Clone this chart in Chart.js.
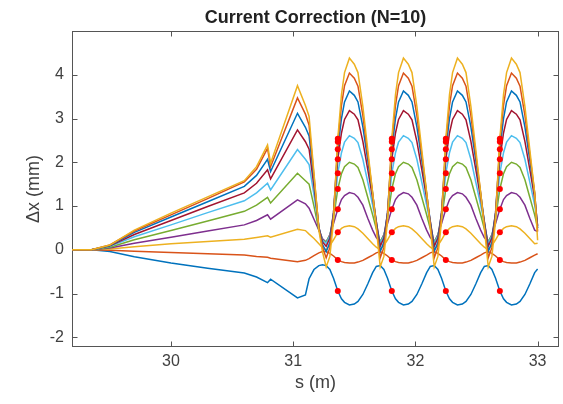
<!DOCTYPE html>
<html>
<head>
<meta charset="utf-8">
<script src="https://cdn.jsdelivr.net/npm/chart.js@4.4.1/dist/chart.umd.min.js"></script>
<style>
  body { margin: 0; background: #fff; }
  #wrap { width: 563px; height: 404px; }
</style>
</head>
<body>
<div id="wrap"><canvas id="orbit-chart" width="563" height="404"></canvas></div>
<script>
// s positions (m) shared by all the curves
var sPos = [
    29.19, 29.35, 29.5, 29.7, 30.0, 30.3, 30.6, 30.7, 30.79, 30.815, 31.035, 31.1, 31.13, 31.17, 31.21, 31.24,
    31.27, 31.30, 31.33, 31.365, 31.395, 31.42, 31.46, 31.50, 31.53, 31.57, 31.61, 31.65, 31.68,
    31.712, 31.742, 31.772, 31.807, 31.837, 31.862, 31.902, 31.942, 31.972, 32.012, 32.052, 32.092, 32.122,
    32.154, 32.184, 32.214, 32.249, 32.279, 32.304, 32.344, 32.384, 32.414, 32.454, 32.494, 32.534, 32.564,
    32.596, 32.626, 32.656, 32.691, 32.721, 32.746, 32.786, 32.826, 32.856, 32.896, 32.936, 32.976, 33.0
];

// delta x (mm), one array per corrector current step
var dx1 = [
    0, 0, -0.04, -0.16, -0.30, -0.42, -0.53, -0.62, -0.75, -0.67, -1.10, -1.03, -0.66, -0.45, -0.36, -0.34,
    -0.36, -0.45, -0.65, -0.94, -1.12, -1.20, -1.26, -1.24, -1.18, -1.02, -0.78, -0.52, -0.38,
    -0.36, -0.45, -0.65, -0.94, -1.12, -1.20, -1.26, -1.24, -1.18, -1.02, -0.78, -0.52, -0.38,
    -0.36, -0.45, -0.65, -0.94, -1.12, -1.20, -1.26, -1.24, -1.18, -1.02, -0.78, -0.52, -0.38,
    -0.36, -0.45, -0.65, -0.94, -1.12, -1.20, -1.26, -1.24, -1.18, -1.02, -0.78, -0.52, -0.44
];
var dx2 = [
    0, 0, -0.01, -0.03, -0.06, -0.09, -0.12, -0.15, -0.17, -0.19, -0.27, -0.24, -0.20, -0.13, -0.07, -0.04,
    -0.04, -0.08, -0.14, -0.23, -0.27, -0.29, -0.30, -0.30, -0.28, -0.24, -0.18, -0.12, -0.07,
    -0.04, -0.08, -0.14, -0.23, -0.27, -0.29, -0.30, -0.30, -0.28, -0.24, -0.18, -0.12, -0.07,
    -0.04, -0.08, -0.14, -0.23, -0.27, -0.29, -0.30, -0.30, -0.28, -0.24, -0.18, -0.12, -0.07,
    -0.04, -0.08, -0.14, -0.23, -0.27, -0.29, -0.30, -0.30, -0.28, -0.24, -0.18, -0.12, -0.09
];
var dx3 = [
    0, 0, 0.02, 0.07, 0.14, 0.19, 0.24, 0.28, 0.32, 0.29, 0.47, 0.44, 0.36, 0.26, 0.14, 0.05,
    0.00, 0.10, 0.23, 0.40, 0.49, 0.53, 0.55, 0.53, 0.48, 0.38, 0.26, 0.14, 0.06,
    0.00, 0.10, 0.23, 0.40, 0.49, 0.53, 0.55, 0.53, 0.48, 0.38, 0.26, 0.14, 0.06,
    0.00, 0.10, 0.23, 0.40, 0.49, 0.53, 0.55, 0.53, 0.48, 0.38, 0.26, 0.14, 0.06,
    0.00, 0.10, 0.23, 0.40, 0.49, 0.53, 0.55, 0.53, 0.48, 0.38, 0.26, 0.14, 0.15
];
var dx4 = [
    0, 0, 0.04, 0.15, 0.29, 0.43, 0.57, 0.67, 0.80, 0.70, 1.14, 1.05, 0.95, 0.70, 0.45, 0.25,
    0.18, 0.35, 0.60, 0.93, 1.15, 1.24, 1.31, 1.28, 1.20, 1.02, 0.72, 0.45, 0.28,
    0.18, 0.35, 0.60, 0.93, 1.15, 1.24, 1.31, 1.28, 1.20, 1.02, 0.72, 0.45, 0.28,
    0.18, 0.35, 0.60, 0.93, 1.15, 1.24, 1.31, 1.28, 1.20, 1.02, 0.72, 0.45, 0.28,
    0.18, 0.35, 0.60, 0.93, 1.15, 1.24, 1.31, 1.28, 1.20, 1.02, 0.72, 0.45, 0.42
];
var dx5 = [
    0, 0, 0.06, 0.23, 0.44, 0.66, 0.88, 1.02, 1.20, 1.07, 1.75, 1.58, 1.50, 1.00, 0.45, 0.22,
    0.18, 0.33, 0.72, 1.39, 1.74, 1.90, 2.00, 1.96, 1.88, 1.60, 1.20, 0.80, 0.48,
    0.18, 0.33, 0.72, 1.39, 1.74, 1.90, 2.00, 1.96, 1.88, 1.60, 1.20, 0.80, 0.48,
    0.18, 0.33, 0.72, 1.39, 1.74, 1.90, 2.00, 1.96, 1.88, 1.60, 1.20, 0.80, 0.48,
    0.18, 0.33, 0.72, 1.39, 1.74, 1.90, 2.00, 1.96, 1.88, 1.60, 1.20, 0.80, 0.50
];
var dx6 = [
    0, 0, 0.08, 0.30, 0.57, 0.85, 1.12, 1.30, 1.52, 1.37, 2.29, 2.07, 1.95, 1.25, 0.50, 0.22,
    0.15, 0.32, 0.80, 1.75, 2.22, 2.46, 2.61, 2.55, 2.45, 2.07, 1.55, 1.02, 0.60,
    0.15, 0.32, 0.80, 1.75, 2.22, 2.46, 2.61, 2.55, 2.45, 2.07, 1.55, 1.02, 0.60,
    0.15, 0.32, 0.80, 1.75, 2.22, 2.46, 2.61, 2.55, 2.45, 2.07, 1.55, 1.02, 0.60,
    0.15, 0.32, 0.80, 1.75, 2.22, 2.46, 2.61, 2.55, 2.45, 2.07, 1.55, 1.02, 0.55
];
var dx7 = [
    0, 0, 0.09, 0.35, 0.67, 0.99, 1.30, 1.52, 1.83, 1.62, 2.74, 2.47, 2.30, 1.45, 0.52, 0.18,
    0.08, 0.27, 0.85, 2.07, 2.67, 2.98, 3.18, 3.10, 2.97, 2.48, 1.84, 1.18, 0.65,
    0.08, 0.27, 0.85, 2.07, 2.67, 2.98, 3.18, 3.10, 2.97, 2.48, 1.84, 1.18, 0.65,
    0.08, 0.27, 0.85, 2.07, 2.67, 2.98, 3.18, 3.10, 2.97, 2.48, 1.84, 1.18, 0.65,
    0.08, 0.27, 0.85, 2.07, 2.67, 2.98, 3.18, 3.10, 2.97, 2.48, 1.84, 1.18, 0.55
];
var dx8 = [
    0, 0, 0.10, 0.40, 0.75, 1.10, 1.45, 1.70, 2.07, 1.79, 3.12, 2.80, 2.60, 1.60, 0.52, 0.12,
    -0.04, 0.17, 0.85, 2.30, 3.00, 3.38, 3.63, 3.53, 3.38, 2.81, 2.05, 1.28, 0.64,
    -0.04, 0.17, 0.85, 2.30, 3.00, 3.38, 3.63, 3.53, 3.38, 2.81, 2.05, 1.28, 0.64,
    -0.04, 0.17, 0.85, 2.30, 3.00, 3.38, 3.63, 3.53, 3.38, 2.81, 2.05, 1.28, 0.64,
    -0.04, 0.17, 0.85, 2.30, 3.00, 3.38, 3.63, 3.53, 3.38, 2.81, 2.05, 1.28, 0.50
];
var dx9 = [
    0, 0, 0.11, 0.43, 0.80, 1.17, 1.55, 1.84, 2.32, 1.90, 3.47, 3.10, 2.85, 1.70, 0.50, 0.05,
    -0.18, 0.05, 0.80, 2.47, 3.30, 3.75, 4.04, 3.92, 3.74, 3.07, 2.18, 1.30, 0.58,
    -0.18, 0.05, 0.80, 2.47, 3.30, 3.75, 4.04, 3.92, 3.74, 3.07, 2.18, 1.30, 0.58,
    -0.18, 0.05, 0.80, 2.47, 3.30, 3.75, 4.04, 3.92, 3.74, 3.07, 2.18, 1.30, 0.58,
    -0.18, 0.05, 0.80, 2.47, 3.30, 3.75, 4.04, 3.92, 3.74, 3.07, 2.18, 1.30, 0.42
];
var dx10 = [
    0, 0, 0.11, 0.45, 0.84, 1.21, 1.58, 1.90, 2.40, 1.98, 3.75, 3.30, 3.05, 1.75, 0.45, -0.05,
    -0.39, -0.15, 0.66, 2.54, 3.55, 4.05, 4.38, 4.24, 4.05, 3.28, 2.29, 1.30, 0.50,
    -0.39, -0.15, 0.66, 2.54, 3.55, 4.05, 4.38, 4.24, 4.05, 3.28, 2.29, 1.30, 0.50,
    -0.39, -0.15, 0.66, 2.54, 3.55, 4.05, 4.38, 4.24, 4.05, 3.28, 2.29, 1.30, 0.50,
    -0.39, -0.15, 0.66, 2.54, 3.55, 4.05, 4.38, 4.24, 4.05, 3.28, 2.29, 1.30, 0.22
];

// BPM readings (red dots)
var bpmPos = [31.365, 31.807, 32.249, 32.691];
var bpmVals = [2.54, 2.47, 2.30, 2.07, 1.75, 1.39, 0.93, 0.40, -0.23, -0.94];

var xTicks = [30, 31, 32, 33];
var yTicks = [-2, -1, 0, 1, 2, 3, 4];

var lineColors = ['#0072BD', '#D95319', '#EDB120', '#7E2F8E', '#77AC30', '#4DBEEE', '#A2142F',
                  '#0072BD', '#D95319', '#EDB120'];
var fontFam = "'Liberation Sans', Arial, Helvetica, sans-serif";
var axisGray = '#555555';
var textGray = '#404040';

var allSeries = [dx1, dx2, dx3, dx4, dx5, dx6, dx7, dx8, dx9, dx10];
var datasets = allSeries.map(function (vals, i) {
    return {
        data: sPos.map(function (s, j) { return { x: s, y: vals[j] }; }),
        borderColor: lineColors[i],
        borderWidth: 1.5,
        pointRadius: 0,
        fill: false,
        tension: 0,
        order: allSeries.length - i
    };
});
var dots = [];
bpmPos.forEach(function (s) {
    bpmVals.forEach(function (v) { dots.push({ x: s, y: v }); });
});
datasets.push({
    data: dots,
    showLine: false,
    pointRadius: 3,
    pointBackgroundColor: '#ff0000',
    pointBorderWidth: 0,
    order: 0
});

// matlab style box with inward ticks
var boxPlugin = {
    id: 'box',
    beforeDatasetsDraw: function (chart) {
        var a = chart.chartArea, ctx = chart.ctx;
        var xs = chart.scales.x, ys = chart.scales.y;
        var tl = 5;
        ctx.save();
        ctx.strokeStyle = axisGray;
        ctx.lineWidth = 1;
        var L = Math.round(a.left) + 0.5, R = Math.round(a.right) - 0.5;
        var T = Math.round(a.top) + 0.5, B = Math.round(a.bottom) - 0.5;
        ctx.strokeRect(L, T, R - L, B - T);
        ctx.beginPath();
        xTicks.forEach(function (v) {
            var px = Math.round(xs.getPixelForValue(v)) + 0.5;
            ctx.moveTo(px, B); ctx.lineTo(px, B - tl);
            ctx.moveTo(px, T); ctx.lineTo(px, T + tl);
        });
        yTicks.forEach(function (v) {
            var py = Math.round(ys.getPixelForValue(v)) + 0.5;
            ctx.moveTo(L, py); ctx.lineTo(L + tl, py);
            ctx.moveTo(R, py); ctx.lineTo(R - tl, py);
        });
        ctx.stroke();
        ctx.restore();
    }
};

var orbitChart = new Chart(document.getElementById('orbit-chart'), {
    type: 'line',
    data: { datasets: datasets },
    options: {
        responsive: false,
        animation: false,
        devicePixelRatio: 1,
        layout: { padding: { left: 0, right: 2, top: 0, bottom: 0 } },
        plugins: {
            legend: { display: false },
            tooltip: { enabled: false },
            title: {
                display: true,
                text: 'Current Correction (N=10)',
                fullSize: false,
                color: '#222222',
                font: { family: fontFam, size: 18, weight: 'bold', lineHeight: 1.2 },
                padding: { top: 7, bottom: 2.4 }
            }
        },
        scales: {
            x: {
                type: 'linear',
                min: 29.19,
                max: 33.175,
                afterBuildTicks: function (s) { s.ticks = xTicks.map(function (v) { return { value: v }; }); },
                afterFit: function (s) { s.height = 57; },
                grid: { display: false, drawTicks: false },
                border: { display: false },
                ticks: { font: { family: fontFam, size: 16 }, color: textGray, padding: 5, maxRotation: 0, autoSkip: false },
                title: {
                    display: true,
                    text: 's (m)',
                    color: textGray,
                    font: { family: fontFam, size: 18, lineHeight: 1.2 },
                    padding: { top: 0, bottom: 10 }
                }
            },
            y: {
                type: 'linear',
                min: -2.22,
                max: 5,
                afterBuildTicks: function (s) { s.ticks = yTicks.map(function (v) { return { value: v }; }); },
                afterFit: function (s) { s.width = 72; },
                grid: { display: false, drawTicks: false },
                border: { display: false },
                ticks: { font: { family: fontFam, size: 16 }, color: textGray, padding: 8 },
                title: {
                    display: true,
                    text: 'Δx (mm)',
                    color: textGray,
                    font: { family: fontFam, size: 18, lineHeight: 1.2 },
                    padding: { top: 23, bottom: 0 }
                }
            }
        }
    },
    plugins: [boxPlugin]
});
</script>
</body>
</html>
